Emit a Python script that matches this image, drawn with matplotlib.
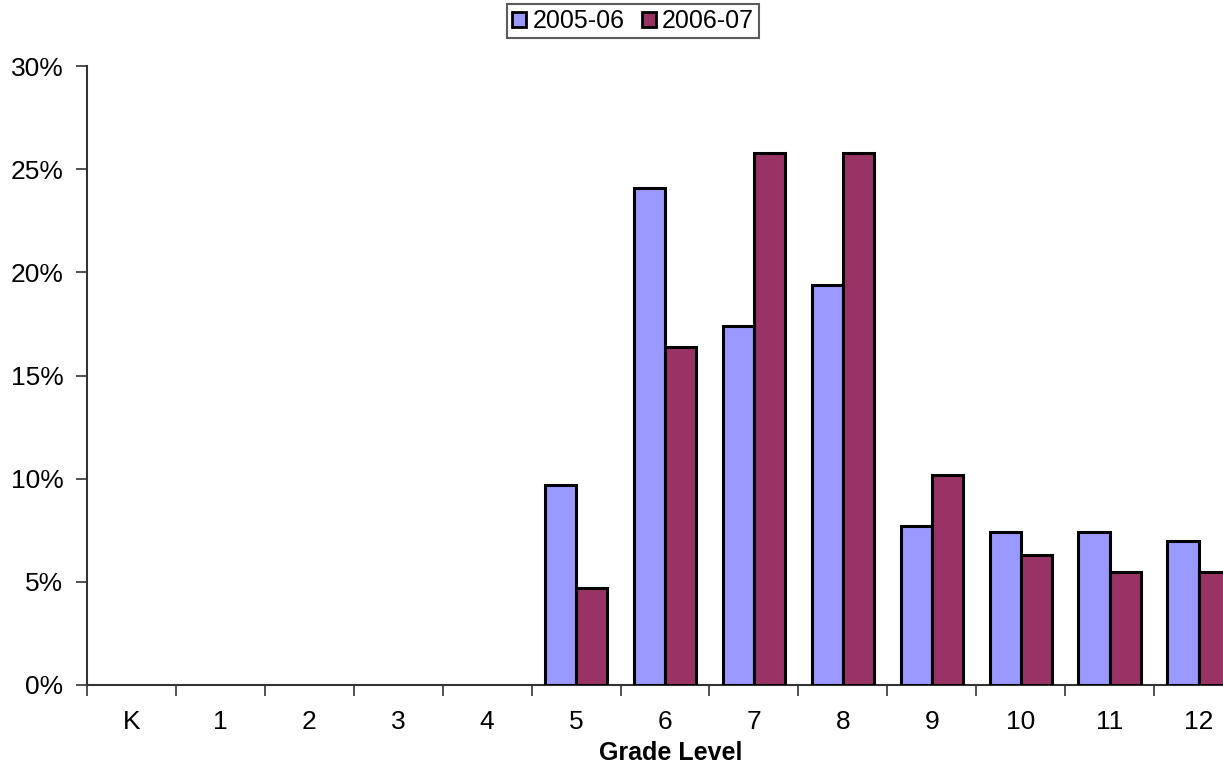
import numpy as np
import matplotlib
matplotlib.use("Agg")
import matplotlib.pyplot as plt
from matplotlib.ticker import PercentFormatter

grades = ['K', '1', '2', '3', '4', '5', '6', '7', '8', '9', '10', '11', '12']
y2005 = [0, 0, 0, 0, 0, 9.7, 24.1, 17.4, 19.4, 7.7, 7.4, 7.4, 7.0]
y2006 = [0, 0, 0, 0, 0, 4.7, 16.4, 25.8, 25.8, 10.2, 6.3, 5.5, 5.5]

plt.rcParams['font.family'] = ['Liberation Sans', 'DejaVu Sans']

fig = plt.figure(figsize=(12.23, 7.66), dpi=100)
# plot area runs a little past the right edge, like the original
ax = fig.add_axes([87/1223, 81/766, 1156/1223, 619/766])

x = np.arange(len(grades))
w = 0.35
v1 = np.array(y2005)
v2 = np.array(y2006)
m1 = v1 > 0
m2 = v2 > 0
ax.bar(x[m1] - w/2, v1[m1], w, color='#9999FF', edgecolor='black', linewidth=2.2, label='2005-06', zorder=3)
ax.bar(x[m2] + w/2, v2[m2], w, color='#993366', edgecolor='black', linewidth=2.2, label='2006-07', zorder=3)

ax.set_xlim(-0.5, len(grades) - 0.5)
ax.set_ylim(0, 30)
ax.set_yticks(np.arange(0, 31, 5))
ax.yaxis.set_major_formatter(PercentFormatter(decimals=0))

ax.set_xticks(x)
ax.set_xticklabels(grades)
ax.set_xticks(np.arange(-0.5, len(grades), 1), minor=True)
ax.tick_params(axis='x', which='major', length=0, pad=18, labelsize=19)
ax.tick_params(axis='x', which='minor', length=8, width=1.2, direction='out', color='#333333')
ax.tick_params(axis='y', length=8, width=1.2, direction='out', pad=9, labelsize=19, color='#333333')

for s in ['top', 'right']:
    ax.spines[s].set_visible(False)
for s in ['left', 'bottom']:
    ax.spines[s].set_color('#333333')
    ax.spines[s].set_linewidth(1.5)

fig.text(671/1223, 1 - 753/766, 'Grade Level', ha='center', va='center', fontsize=18, fontweight='bold')

leg = fig.legend(loc='center', bbox_to_anchor=(633/1223, 1 - 21/766), ncol=2, fontsize=18,
                 frameon=True, fancybox=False, edgecolor='#333333', handlelength=0.55, handleheight=0.55,
                 handletextpad=0.25, columnspacing=0.7, borderpad=0.2, borderaxespad=0)
leg.get_frame().set_linewidth(1.5)
for h in leg.legend_handles:
    h.set_linewidth(2)

fig.savefig('out.png', dpi=100)
